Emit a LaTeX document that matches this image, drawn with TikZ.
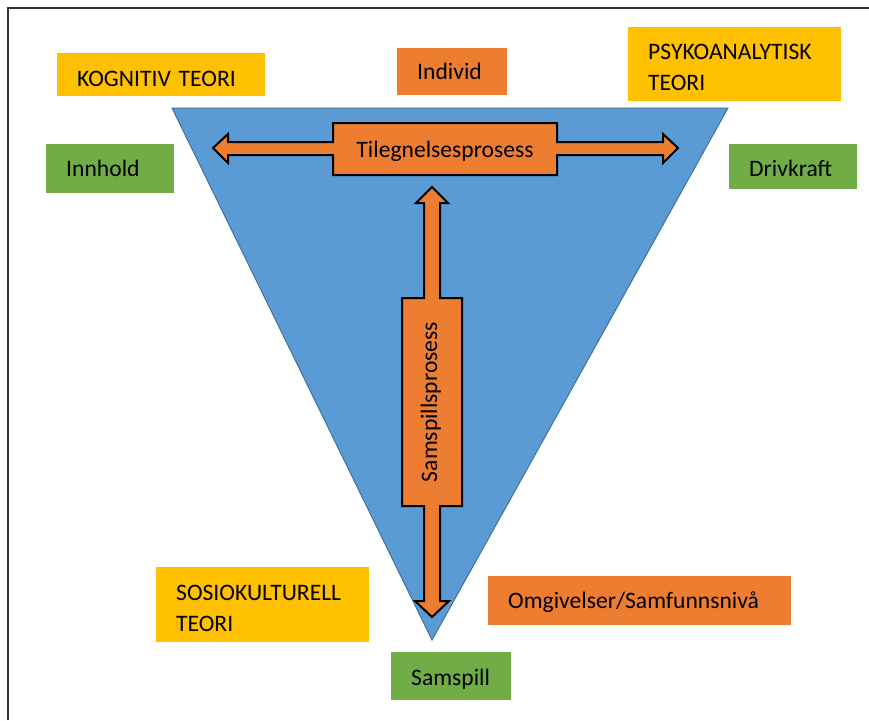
\documentclass[tikz,border=0pt]{standalone}
\usepackage{fontspec}
\setmainfont{Carlito}
\usepackage{tikz}

\definecolor{boxgold}{HTML}{FFC000}
\definecolor{boxgreen}{HTML}{70AD47}
\definecolor{boxorange}{HTML}{ED7D31}
\definecolor{triblue}{HTML}{5B9BD5}
\definecolor{triedge}{HTML}{41719C}

\begin{document}
\begin{tikzpicture}[x=1pt,y=-1pt,
  tbox/.style={rectangle, anchor=north west, inner xsep=20pt, inner ysep=0pt,
    align=left, font=\fontsize{23.6}{31.4}\selectfont},
  arrowline/.style={fill=boxorange, draw=black, line width=2pt, line join=miter},
  arrowtext/.style={inner sep=0pt, font=\fontsize{23.6}{28}\selectfont}]
\useasboundingbox (0,0) rectangle (869,720);

%frame
\draw[line width=2pt,black!80] (8,720) -- (8,8) -- (869,8);

%triangle
\draw[fill=triblue,draw=triedge,line width=1pt] (172,108) -- (728,108) -- (432,640) -- cycle;

%horizontal arrow
\draw[arrowline] (213,148) -- (228,134) -- (228,142) -- (333,142) -- (333,123)
  -- (557,123) -- (557,142) -- (663,142) -- (663,134) -- (678,148) -- (663,163)
  -- (663,155) -- (557,155) -- (557,175) -- (333,175) -- (333,155) -- (228,155)
  -- (228,163) -- cycle;
\node[arrowtext,anchor=base] (tilegn) at (445,157) {Tilegnelsesprosess};

%vertical arrow
\draw[arrowline] (432,187) -- (448,203) -- (440,203) -- (440,298) -- (462,298)
  -- (462,506) -- (440,506) -- (440,601) -- (449,601) -- (432,617) -- (415,601)
  -- (424,601) -- (424,506) -- (402,506) -- (402,298) -- (424,298) -- (424,203)
  -- (416,203) -- cycle;
\node[arrowtext,anchor=base,rotate=90] (samspr) at (437,402) {Samspillsprosess};

%top boxes
\node[tbox,fill=boxgold,text width=168,text height=33,text depth=10] (kognitiv) at (57,53) {KOGNITIV TEORI};
\node[tbox,fill=boxorange,text width=70,text height=31,text depth=16] (individ) at (397,48) {Individ};
\node[tbox,fill=boxgold,text width=173,text height=32,text depth=42] (psyko) at (628,27) {PSYKOANALYTISK\\TEORI};

%side boxes
\node[tbox,fill=boxgreen,text width=88,text height=32,text depth=17] (innhold) at (46,144) {Innhold};
\node[tbox,fill=boxgreen,text width=88,text height=32,text depth=13] (drivkraft) at (729,144) {Drivkraft};

%bottom boxes
\node[tbox,fill=boxgold,text width=173,text height=33,text depth=42] (sosio) at (156,567) {SOSIOKULTURELL\\TEORI};
\node[tbox,fill=boxorange,text width=263,text height=32,text depth=17] (omgiv) at (488,576) {Omgivelser/Samfunnsnivå};
\node[tbox,fill=boxgreen,text width=80,text height=33,text depth=15] (samspill) at (391,652) {Samspill};

\end{tikzpicture}
\end{document}
